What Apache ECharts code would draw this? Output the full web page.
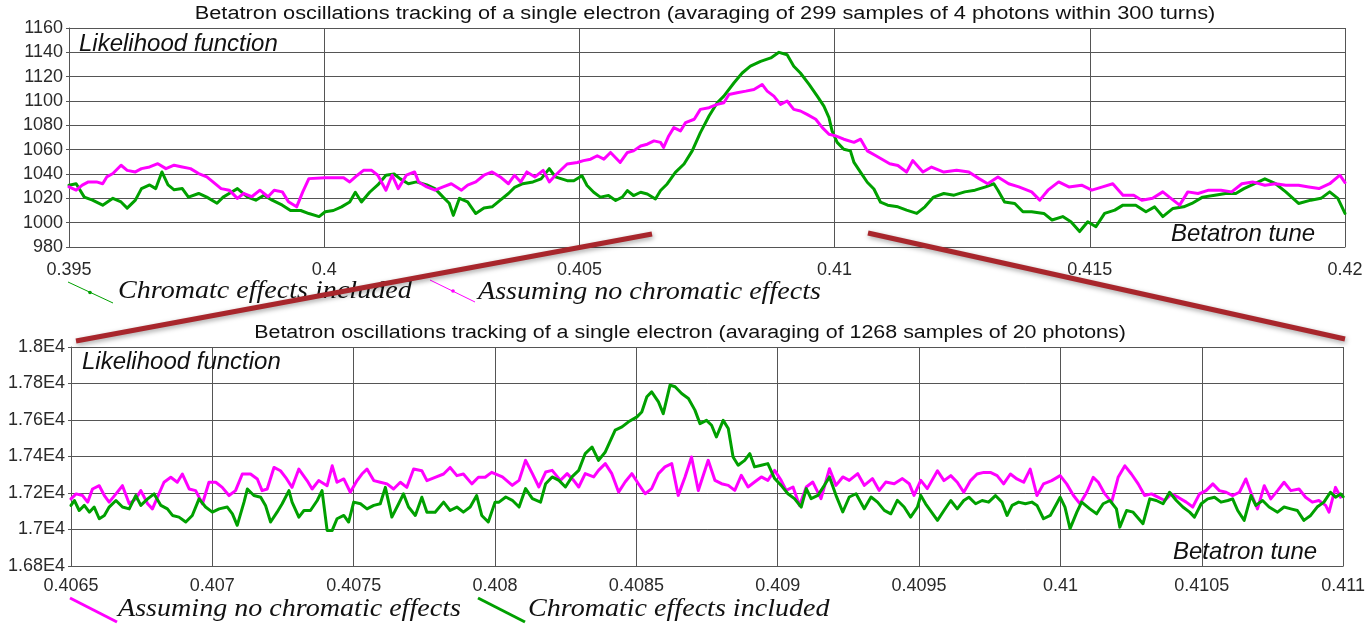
<!DOCTYPE html>
<html><head><meta charset="utf-8">
<script src="https://cdn.jsdelivr.net/npm/echarts@6/dist/echarts.min.js"></script>
<style>html,body{margin:0;padding:0;background:#fff}#c{width:1368px;height:627px}</style>
</head><body><div id="c"></div>
<script>
// ---------- DATA ----------
const topTitle = 'Betatron oscillations tracking of a single electron (avaraging of 299 samples of 4 photons within 300 turns)';
const lowTitle = 'Betatron oscillations tracking of a single electron (avaraging of 1268 samples of 20 photons)';
const yName = 'Likelihood function';
const xName = 'Betatron tune';
const legendChromTop = 'Chromatc effects included';
const legendChrom = 'Chromatic effects included';
const legendNoChrom = 'Assuming no chromatic effects';

// top panel: [tune, likelihood]
const topChromatic = [
[0.39500,1030.8],[0.39514,1032],[0.39530,1021],[0.39546,1018.5],[0.39566,1014.4],[0.39586,1020],[0.39602,1017],[0.39614,1012],[0.39630,1018.5],[0.39642,1028],
[0.39658,1031],[0.39670,1028],[0.39682,1041.7],[0.39694,1031],[0.39706,1027],[0.39722,1028],[0.39734,1021],[0.39754,1024],[0.39770,1021],[0.39790,1016],
[0.39802,1021],[0.39818,1025],[0.39830,1028],[0.39850,1021],[0.39866,1018.5],[0.39882,1022.6],[0.39898,1018.5],[0.39918,1014.4],[0.39934,1010],[0.39954,1010],
[0.39970,1007.5],[0.39990,1005],[0.40002,1009],[0.40018,1010],[0.40034,1013],[0.40050,1017],[0.40061,1025],[0.40073,1017],[0.40089,1025],[0.40105,1031],
[0.40121,1039],[0.40137,1040],[0.40149,1036],[0.40165,1032],[0.40181,1033.5],[0.40201,1031],[0.40217,1028],[0.40233,1021],[0.40245,1016],[0.40253,1006],
[0.40265,1020],[0.40281,1017],[0.40297,1007.5],[0.40313,1012],[0.40329,1013],[0.40345,1018.5],[0.40361,1024],[0.40373,1029],[0.40389,1032],[0.40409,1033.5],
[0.40425,1036],[0.40441,1044.4],[0.40453,1037.6],[0.40476,1034.5],[0.40489,1034.5],[0.40505,1038.6],[0.40515,1030.5],[0.40528,1025],[0.40541,1021],[0.40557,1022.3],
[0.40571,1018.2],[0.40584,1021],[0.40594,1026.4],[0.40606,1022.3],[0.40620,1025],[0.40633,1023.6],[0.40649,1019.5],[0.40659,1026.4],[0.40672,1031.8],[0.40688,1041.3],
[0.40705,1048.2],[0.40721,1059],[0.40737,1074],[0.40754,1087.7],[0.40770,1098.6],[0.40783,1104],[0.40803,1115],[0.40819,1123],[0.40835,1128.6],[0.40855,1132.6],
[0.40875,1135.4],[0.40891,1140],[0.40907,1138],[0.40920,1128.6],[0.40933,1123],[0.40950,1113.6],[0.40966,1104],[0.40979,1095.8],[0.40989,1086.3],[0.40995,1075.4],
[0.41005,1066],[0.41018,1060.4],[0.41031,1059],[0.41038,1049.5],[0.41051,1041.3],[0.41064,1033.2],[0.41077,1027.7],[0.41090,1016.8],[0.41104,1014.4],[0.41124,1013],
[0.41141,1010.3],[0.41161,1007.6],[0.41177,1013],[0.41194,1021],[0.41214,1024],[0.41234,1022.6],[0.41255,1025.3],[0.41275,1026.7],[0.41296,1029.4],[0.41312,1032],
[0.41320,1026.7],[0.41333,1017],[0.41353,1015.8],[0.41369,1009],[0.41386,1009],[0.41410,1007.6],[0.41426,1002.2],[0.41447,1005],[0.41463,1000.8],[0.41480,992.7],
[0.41496,1000.8],[0.41512,996.7],[0.41529,1007.6],[0.41549,1010.3],[0.41565,1014.4],[0.41590,1014.4],[0.41610,1009],[0.41627,1013],[0.41643,1005],[0.41663,1011.7],
[0.41684,1013],[0.41700,1015.8],[0.41721,1021],[0.41745,1022.6],[0.41766,1024],[0.41786,1024],[0.41802,1028],[0.41823,1032],[0.41843,1036],[0.41864,1032],
[0.41884,1025.3],[0.41909,1015.8],[0.41933,1018.5],[0.41953,1020],[0.41970,1025.3],[0.41986,1020],[0.42000,1007.6]
];
const topNoChromatic = [
[0.39500,1029.4],[0.39514,1026.7],[0.39526,1030.8],[0.39538,1033.5],[0.39554,1033.5],[0.39566,1032],[0.39574,1037.6],[0.39586,1040.4],[0.39602,1047.2],[0.39614,1043],
[0.39630,1041.7],[0.39642,1044.4],[0.39658,1045.8],[0.39674,1048.5],[0.39690,1044.4],[0.39706,1047.2],[0.39722,1045.8],[0.39738,1044.4],[0.39754,1040.4],[0.39770,1037.6],
[0.39782,1033.5],[0.39798,1028],[0.39814,1026.7],[0.39830,1020],[0.39842,1024],[0.39858,1021.3],[0.39874,1026.7],[0.39890,1021.3],[0.39902,1026.7],[0.39918,1025.3],
[0.39930,1017.2],[0.39946,1013],[0.39958,1025.3],[0.39970,1036.2],[0.40002,1037],[0.40038,1037],[0.40050,1033.5],[0.40065,1039],[0.40077,1043],[0.40093,1043],
[0.40105,1039],[0.40121,1026.7],[0.40133,1039],[0.40145,1028],[0.40161,1039],[0.40177,1041.7],[0.40185,1033.5],[0.40201,1029.4],[0.40217,1026.7],[0.40233,1029.4],
[0.40249,1032],[0.40269,1026.7],[0.40281,1030.8],[0.40297,1033.5],[0.40313,1039],[0.40329,1041.7],[0.40345,1037.6],[0.40361,1032],[0.40373,1039],[0.40385,1033.5],
[0.40397,1041.7],[0.40413,1037.6],[0.40429,1043],[0.40441,1033.5],[0.40453,1039],[0.40476,1048.2],[0.40496,1049.5],[0.40508,1051],[0.40522,1052.2],[0.40535,1055],
[0.40548,1052.2],[0.40561,1057.7],[0.40580,1049.5],[0.40594,1057.7],[0.40606,1059],[0.40620,1063],[0.40633,1064.5],[0.40646,1067.2],[0.40659,1066],[0.40665,1061.8],
[0.40675,1071.3],[0.40685,1078.1],[0.40698,1075.4],[0.40708,1082.2],[0.40725,1085],[0.40737,1093.1],[0.40754,1094.5],[0.40770,1097.2],[0.40783,1098.6],[0.40793,1105.4],
[0.40809,1106.8],[0.40826,1108.1],[0.40842,1109.5],[0.40858,1113.6],[0.40868,1108.1],[0.40881,1104],[0.40894,1097.2],[0.40907,1100],[0.40920,1093.1],[0.40933,1091.8],
[0.40946,1089],[0.40963,1085],[0.40976,1078.1],[0.40989,1072.7],[0.41002,1071.3],[0.41018,1068.6],[0.41038,1066],[0.41051,1068.6],[0.41064,1059],[0.41081,1055],
[0.41108,1048.4],[0.41124,1047],[0.41141,1041.6],[0.41153,1051],[0.41173,1041.6],[0.41190,1045.7],[0.41214,1041.6],[0.41239,1043],[0.41263,1041.6],[0.41283,1036.2],
[0.41300,1032],[0.41320,1037.6],[0.41341,1032],[0.41361,1029.4],[0.41386,1025.3],[0.41402,1018.5],[0.41418,1026.7],[0.41439,1033.5],[0.41459,1029.4],[0.41484,1030.8],
[0.41504,1026.7],[0.41525,1029.4],[0.41545,1032],[0.41565,1022.6],[0.41586,1022.6],[0.41602,1018.5],[0.41623,1020],[0.41643,1025.3],[0.41659,1020],[0.41676,1014.4],
[0.41692,1025.3],[0.41712,1024],[0.41733,1026.7],[0.41757,1026.7],[0.41778,1025.3],[0.41798,1032],[0.41819,1033.5],[0.41843,1030.8],[0.41864,1032],[0.41884,1030.8],
[0.41909,1030.8],[0.41929,1029.4],[0.41949,1028],[0.41970,1032],[0.41990,1039],[0.42000,1033]
];

// lower panel: [tune, likelihood]
const lowNoChromatic = [
[0.406500,17168],[0.406518,17195],[0.406541,17186],[0.406559,17150],[0.406576,17222],[0.406600,17240],[0.406618,17186],[0.406635,17150],[0.406659,17195],[0.406682,17240],
[0.406706,17141],[0.406729,17168],[0.406747,17213],[0.406771,17141],[0.406788,17113],[0.406806,17177],[0.406829,17259],[0.406853,17286],[0.406876,17259],[0.406894,17304],
[0.406918,17222],[0.406941,17213],[0.406965,17141],[0.406988,17259],[0.407012,17259],[0.407035,17231],[0.407059,17186],[0.407082,17213],[0.407106,17304],[0.407135,17304],
[0.407159,17277],[0.407176,17213],[0.407194,17222],[0.407218,17340],[0.407241,17322],[0.407259,17286],[0.407282,17231],[0.407306,17331],[0.407335,17268],[0.407353,17222],
[0.407376,17268],[0.407406,17240],[0.407424,17349],[0.407441,17259],[0.407465,17277],[0.407488,17204],[0.407512,17268],[0.407529,17304],[0.407547,17331],[0.407571,17268],
[0.407594,17259],[0.407618,17250],[0.407641,17222],[0.407665,17259],[0.407688,17231],[0.407712,17331],[0.407741,17322],[0.407759,17268],[0.407788,17286],[0.407818,17304],
[0.407841,17340],[0.407865,17295],[0.407888,17304],[0.407918,17250],[0.407941,17286],[0.407965,17286],[0.407988,17313],
[0.408026,17288],[0.408061,17242],[0.408085,17269],[0.408108,17379],[0.408132,17306],[0.408155,17233],[0.408179,17315],[0.408202,17324],[0.408231,17269],[0.408255,17306],
[0.408278,17269],[0.408296,17233],[0.408319,17306],[0.408349,17288],[0.408366,17324],[0.408390,17361],[0.408413,17306],[0.408437,17205],[0.408460,17260],[0.408484,17306],
[0.408507,17251],[0.408531,17196],[0.408554,17224],[0.408578,17306],[0.408601,17343],[0.408625,17361],[0.408648,17187],[0.408672,17288],[0.408695,17397],[0.408719,17214],
[0.408754,17379],[0.408778,17269],[0.408801,17251],[0.408825,17242],[0.408848,17214],[0.408871,17297],[0.408895,17233],[0.408918,17260],[0.408942,17288],[0.408965,17269],
[0.408989,17324],[0.409012,17269],[0.409030,17214],[0.409054,17233],[0.409077,17132],[0.409101,17233],[0.409124,17260],[0.409153,17169],[0.409183,17333],[0.409206,17242],
[0.409230,17288],[0.409253,17269],[0.409283,17306],[0.409306,17242],[0.409335,17279],[0.409359,17214],[0.409382,17260],[0.409412,17251],[0.409441,17279],[0.409465,17251],
[0.409482,17187],[0.409506,17269],[0.409529,17224],
[0.409565,17322],[0.409588,17268],[0.409612,17295],[0.409635,17259],[0.409658,17204],[0.409682,17268],[0.409705,17304],[0.409729,17313],[0.409752,17313],[0.409776,17295],
[0.409799,17250],[0.409823,17304],[0.409846,17277],[0.409870,17259],[0.409893,17331],[0.409917,17186],[0.409940,17250],[0.409969,17268],[0.409999,17295],[0.410022,17250],
[0.410046,17186],[0.410069,17141],[0.410093,17204],[0.410116,17286],[0.410134,17259],[0.410157,17195],[0.410181,17150],[0.410204,17286],[0.410228,17349],[0.410251,17304],
[0.410275,17250],[0.410298,17186],[0.410322,17195],[0.410345,17177],[0.410369,17159],[0.410392,17195],[0.410416,17177],[0.410445,17150],[0.410468,17123],[0.410492,17195],
[0.410515,17213],[0.410539,17250],[0.410562,17213],[0.410586,17204],[0.410609,17186],[0.410633,17204],[0.410656,17277],[0.410680,17177],[0.410697,17113],[0.410721,17240],
[0.410744,17168],[0.410768,17213],[0.410791,17259],[0.410815,17213],[0.410844,17222],[0.410867,17177],[0.410891,17150],[0.410914,17159],[0.410938,17132],[0.410950,17095],
[0.410973,17231],[0.410991,17177]
];
const lowChromatic = [
[0.406500,17132],[0.406512,17159],[0.406529,17104],[0.406547,17132],[0.406565,17095],[0.406582,17123],[0.406600,17059],[0.406618,17077],[0.406635,17123],[0.406659,17159],
[0.406682,17123],[0.406706,17113],[0.406729,17186],[0.406747,17132],[0.406771,17168],[0.406794,17195],[0.406818,17132],[0.406841,17113],[0.406859,17077],[0.406882,17068],
[0.406906,17041],[0.406929,17077],[0.406953,17168],[0.406976,17123],[0.407000,17095],[0.407024,17113],[0.407053,17123],[0.407071,17086],[0.407088,17023],[0.407112,17150],
[0.407124,17222],[0.407147,17186],[0.407171,17177],[0.407188,17132],[0.407206,17041],[0.407229,17095],[0.407247,17141],[0.407271,17213],[0.407282,17150],[0.407306,17068],
[0.407324,17104],[0.407347,17104],[0.407371,17159],[0.407388,17213],[0.407406,16995],[0.407424,16995],[0.407441,17059],[0.407465,17077],[0.407482,17041],[0.407500,17150],
[0.407524,17141],[0.407547,17113],[0.407571,17132],[0.407594,17141],[0.407612,17231],[0.407635,17068],[0.407659,17141],[0.407676,17195],[0.407694,17123],[0.407718,17077],
[0.407741,17177],[0.407759,17095],[0.407788,17095],[0.407818,17150],[0.407841,17104],[0.407865,17123],[0.407888,17095],[0.407912,17123],[0.407935,17186],[0.407953,17077],
[0.407976,17041],[0.408000,17150],
[0.408014,17150],[0.408038,17178],[0.408061,17160],[0.408085,17123],[0.408108,17224],[0.408132,17169],[0.408161,17150],[0.408179,17251],[0.408202,17288],[0.408226,17269],
[0.408249,17233],[0.408272,17288],[0.408296,17324],[0.408319,17416],[0.408343,17452],[0.408366,17379],[0.408390,17425],[0.408425,17544],[0.408449,17562],[0.408472,17590],
[0.408502,17617],[0.408519,17644],[0.408537,17727],[0.408554,17754],[0.408578,17699],[0.408595,17635],[0.408619,17791],[0.408637,17782],[0.408660,17745],[0.408684,17718],
[0.408707,17654],[0.408725,17580],[0.408748,17598],[0.408766,17571],[0.408783,17507],[0.408807,17598],[0.408825,17553],[0.408842,17397],[0.408860,17352],[0.408883,17379],
[0.408901,17416],[0.408918,17343],[0.408942,17352],[0.408965,17361],[0.408989,17279],[0.409012,17242],[0.409036,17196],[0.409059,17169],[0.409083,17123],[0.409101,17224],
[0.409118,17169],[0.409142,17187],[0.409165,17242],[0.409183,17288],[0.409206,17187],[0.409230,17096],[0.409253,17178],[0.409277,17196],[0.409306,17114],[0.409330,17178],
[0.409353,17150],[0.409377,17105],[0.409400,17086],[0.409423,17160],[0.409447,17123],[0.409470,17068],[0.409494,17123],[0.409506,17187],[0.409523,17141],
[0.409565,17050],[0.409588,17104],[0.409612,17159],[0.409635,17113],[0.409658,17159],[0.409676,17177],[0.409700,17141],[0.409723,17159],[0.409746,17150],[0.409770,17186],
[0.409793,17150],[0.409811,17077],[0.409829,17132],[0.409852,17150],[0.409876,17141],[0.409899,17150],[0.409917,17132],[0.409940,17059],[0.409964,17077],[0.409999,17177],
[0.410016,17123],[0.410034,17005],[0.410058,17095],[0.410075,17150],[0.410104,17113],[0.410128,17086],[0.410151,17141],[0.410175,17159],[0.410198,17113],[0.410210,17013],
[0.410234,17104],[0.410257,17095],[0.410292,17032],[0.410316,17168],[0.410339,17159],[0.410363,17141],[0.410386,17204],[0.410410,17159],[0.410433,17123],[0.410457,17095],
[0.410474,17068],[0.410498,17141],[0.410521,17168],[0.410545,17177],[0.410568,17150],[0.410592,17159],[0.410609,17168],[0.410627,17104],[0.410650,17050],[0.410674,17186],
[0.410691,17132],[0.410715,17159],[0.410738,17123],[0.410768,17095],[0.410791,17123],[0.410815,17113],[0.410838,17104],[0.410861,17050],[0.410885,17077],[0.410908,17123],
[0.410932,17150],[0.410955,17204],[0.410973,17177],[0.410991,17195],[0.411000,17180]
];

// ---------- CHART ----------
const GREEN = '#00A000', PINK = '#FF00FF', GRID = '#555555', RED = '#A8262C';
const SANS = '"Liberation Sans", Arial, sans-serif';
const SERIF = '"Liberation Serif", "Times New Roman", serif';
const chart = echarts.init(document.getElementById('c'), null, {renderer: 'canvas'});

function xAxisCfg(grid, min, max, step, dec, margin) {
  return {
    gridIndex: grid, type: 'value', min, max, interval: step,
    axisLine: {show: true, lineStyle: {color: GRID, width: 1}},
    axisTick: {show: false},
    splitLine: {show: true, lineStyle: {color: GRID, width: 1}},
    axisLabel: {fontSize: 18, color: '#2a2a2a', fontFamily: SANS, margin,
      showMinLabel: true, showMaxLabel: true,
      formatter: v => String(parseFloat(v.toFixed(dec)))}
  };
}
function yAxisCfg(grid, min, max, step, fmt) {
  return {
    gridIndex: grid, type: 'value', min, max, interval: step,
    axisLine: {show: true, lineStyle: {color: GRID, width: 1}},
    axisTick: {show: true, length: 3, lineStyle: {color: GRID}},
    splitLine: {show: true, lineStyle: {color: GRID, width: 1}},
    axisLabel: {fontSize: 18, color: '#2a2a2a', fontFamily: SANS, margin: 6, formatter: fmt}
  };
}
function lineSeries(name, data, color, xi, width) {
  return {name, type: 'line', xAxisIndex: xi, yAxisIndex: xi, data, showSymbol: false,
    symbol: 'none', lineStyle: {color, width, join: 'round', cap: 'round'}, itemStyle: {color}, animation: false, z: 3};
}

function txt(text, x, y, font, align, opts) {
  return Object.assign({type: 'text', x, y, z: 50, silent: true,
    style: {text, x: 0, y: 0, font, fill: '#111', align: align || 'left', verticalAlign: 'middle'}}, opts || {});
}

const option = {
  backgroundColor: '#fff',
  animation: false,
  grid: [
    {left: 69, right: 23, top: 28, height: 219, containLabel: false},
    {left: 71, right: 21, top: 347, height: 219, containLabel: false}
  ],
  xAxis: [
    xAxisCfg(0, 0.395, 0.42, 0.005, 4, 14),
    xAxisCfg(1, 0.4065, 0.411, 0.0005, 5, 11)
  ],
  yAxis: [
    yAxisCfg(0, 980, 1160, 20, v => String(v)),
    yAxisCfg(1, 16800, 18000, 200, v => String(parseFloat((v / 10000).toFixed(4))) + 'E4')
  ],
  series: [
    lineSeries(legendChromTop, topChromatic, GREEN, 0, 3),
    lineSeries(legendNoChrom, topNoChromatic, PINK, 0, 3),
    lineSeries(legendNoChrom, lowNoChromatic, PINK, 1, 3),
    lineSeries(legendChrom, lowChromatic, GREEN, 1, 3)
  ],
  graphic: [
    txt(topTitle, 705, 14, '18px ' + SANS, 'center', {scaleX: 1.21}),
    txt(lowTitle, 690, 333, '18px ' + SANS, 'center', {scaleX: 1.19}),
    txt(yName, 79, 44, 'italic 24px ' + SANS, 'left'),
    txt(yName, 82, 362, 'italic 24px ' + SANS, 'left'),
    txt(xName, 1171, 234, 'italic 24px ' + SANS, 'left'),
    txt(xName, 1173, 552, 'italic 24px ' + SANS, 'left'),
    // top legend
    {type: 'line', z: 50, shape: {x1: 68, y1: 282, x2: 113, y2: 303}, style: {stroke: GREEN, lineWidth: 1}},
    {type: 'circle', z: 50, shape: {cx: 90, cy: 292.5, r: 1.8}, style: {fill: GREEN}},
    txt(legendChromTop, 118, 291, 'italic 26px ' + SERIF, 'left', {scaleX: 1.08}),
    {type: 'line', z: 50, shape: {x1: 430, y1: 280, x2: 475, y2: 302}, style: {stroke: PINK, lineWidth: 1}},
    {type: 'circle', z: 50, shape: {cx: 453, cy: 291, r: 1.8}, style: {fill: PINK}},
    txt(legendNoChrom, 478, 292, 'italic 26px ' + SERIF, 'left', {scaleX: 1.08}),
    // bottom legend
    {type: 'line', z: 50, shape: {x1: 70, y1: 598, x2: 117, y2: 622}, style: {stroke: PINK, lineWidth: 3}},
    txt(legendNoChrom, 118, 609, 'italic 26px ' + SERIF, 'left', {scaleX: 1.08}),
    {type: 'line', z: 50, shape: {x1: 478, y1: 598, x2: 525, y2: 622}, style: {stroke: GREEN, lineWidth: 3}},
    txt(legendChrom, 528, 609, 'italic 26px ' + SERIF, 'left', {scaleX: 1.08}),
    // zoom connector lines
    {type: 'line', z: 60, shape: {x1: 652, y1: 234, x2: 76, y2: 341},
      style: {stroke: RED, lineWidth: 5, lineCap: 'butt', shadowBlur: 5, shadowColor: 'rgba(0,0,0,0.35)', shadowOffsetY: 2, shadowOffsetX: 1}},
    {type: 'line', z: 60, shape: {x1: 868, y1: 233, x2: 1345, y2: 339},
      style: {stroke: RED, lineWidth: 5, lineCap: 'butt', shadowBlur: 5, shadowColor: 'rgba(0,0,0,0.35)', shadowOffsetY: 2, shadowOffsetX: 1}}
  ]
};
chart.setOption(option);
</script></body></html>
